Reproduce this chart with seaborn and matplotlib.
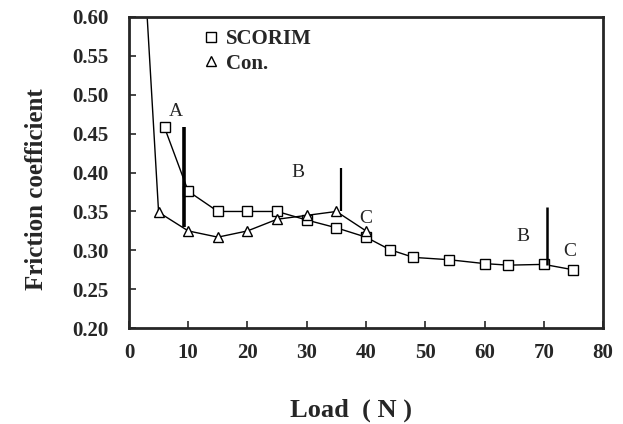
# friction coefficient vs load, SCORIM vs conventional moulding
import matplotlib
matplotlib.use("Agg")
import matplotlib.pyplot as plt
from matplotlib.lines import Line2D
import seaborn as sns
import pandas as pd

# data
scorim_load = [6, 10, 15, 20, 25, 30, 35, 40, 44, 48, 54, 60, 64, 70, 75]
scorim_mu = [0.458, 0.376, 0.350, 0.350, 0.350, 0.339, 0.329, 0.317, 0.301, 0.291,
             0.288, 0.283, 0.281, 0.282, 0.275]
con_load = [2, 5, 10, 15, 20, 25, 30, 35, 40]
con_mu = [0.74, 0.349, 0.325, 0.317, 0.325, 0.340, 0.345, 0.350, 0.325]

# thick vertical markers (x, y_low, y_high, width)
vline_x = [9.3, 35.7, 70.5]
vline_lo = [0.330, 0.350, 0.281]
vline_hi = [0.459, 0.406, 0.356]
vline_w = [2.6, 1.6, 1.8]

# A/B/C annotations
ann_text = ["A", "B", "C", "B", "C"]
ann_x = [7.9, 28.5, 40.0, 66.4, 74.4]
ann_y = [0.478, 0.400, 0.341, 0.318, 0.298]

sns.set_style("ticks")
plt.rcParams["font.family"] = ["Liberation Serif", "DejaVu Serif"]

df_s = pd.DataFrame({"load": scorim_load, "mu": scorim_mu})
df_c = pd.DataFrame({"load": con_load, "mu": con_mu})

fig = plt.figure(figsize=(6.23, 4.24), dpi=100)
ax = fig.add_axes([0.207, 0.226, 0.761, 0.734])

sns.lineplot(data=df_s, x="load", y="mu", ax=ax, sort=False, color="black", lw=1.0,
             marker="s", markersize=7, markerfacecolor="white", markeredgecolor="black",
             markeredgewidth=1.0)
sns.lineplot(data=df_c, x="load", y="mu", ax=ax, sort=False, color="black", lw=1.0,
             marker="^", markersize=7, markerfacecolor="white", markeredgecolor="black",
             markeredgewidth=1.0)

for x, lo, hi, w in zip(vline_x, vline_lo, vline_hi, vline_w):
    ax.vlines(x, lo, hi, colors="black", lw=w)

for t, x, y in zip(ann_text, ann_x, ann_y):
    ax.text(x, y, t, fontsize=14, ha="center", va="center")

ax.set_xlim(0, 80)
ax.set_ylim(0.20, 0.60)
ax.set_xticks(range(0, 81, 10))
ax.set_yticks([0.20, 0.25, 0.30, 0.35, 0.40, 0.45, 0.50, 0.55, 0.60])
ax.set_yticklabels([f"{v:.2f}" for v in ax.get_yticks()])
ax.tick_params(direction="in", length=5, width=1.2, labelsize=15)
ax.tick_params(axis="x", pad=11)
ax.tick_params(axis="y", pad=15)
for lab in ax.get_xticklabels() + ax.get_yticklabels():
    lab.set_fontweight("bold")
for sp in ax.spines.values():
    sp.set_visible(True)
    sp.set_linewidth(2.0)

ax.set_xlabel("Load  ( N )", fontsize=19, fontweight="bold")
ax.set_ylabel("Friction coefficient", fontsize=18, fontweight="bold")
ax.xaxis.set_label_coords(0.468, -0.226)
ax.yaxis.set_label_coords(-0.171, 0.447)

handles = [
    Line2D([], [], ls="none", marker="s", markersize=7, markerfacecolor="white",
           markeredgecolor="black", label="SCORIM"),
    Line2D([], [], ls="none", marker="^", markersize=7, markerfacecolor="white",
           markeredgecolor="black", label="Con."),
]
ax.legend(handles=handles, loc="upper left", bbox_to_anchor=(0.13, 1.0), frameon=False,
          prop={"weight": "bold", "size": 15}, handlelength=0.8, handletextpad=0.3,
          labelspacing=0.2, borderaxespad=0.2)

plt.savefig("out.png", dpi=100)
